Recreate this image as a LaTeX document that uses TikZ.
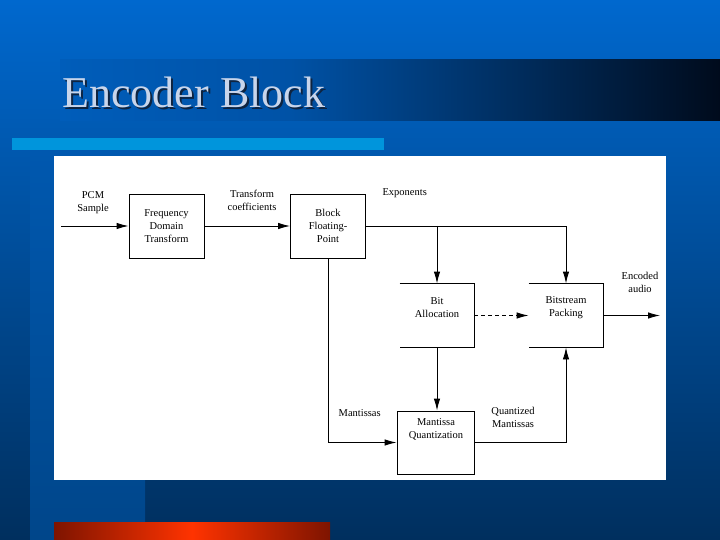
\documentclass[tikz,border=0pt]{standalone}
\usepackage{fontspec}
\setmainfont{Liberation Serif}
\usetikzlibrary{arrows.meta}

\definecolor{slidetop}{HTML}{0068CE}
\definecolor{slidebottom}{HTML}{002F5E}
\definecolor{stripetop}{HTML}{0058AF}
\definecolor{stripebottom}{HTML}{00468A}
\definecolor{bandleft}{HTML}{005DBA}
\definecolor{bandmid}{HTML}{0052A6}
\definecolor{bandright}{HTML}{000B1C}
\definecolor{lightbar}{HTML}{0095DC}
\definecolor{redside}{HTML}{7E1400}
\definecolor{redmid}{HTML}{FF3300}
\definecolor{titletext}{HTML}{C8D5EB}
\definecolor{titleshade}{HTML}{0F2440}

\newcommand{\diagfont}{\fontsize{10.5}{13}\selectfont}
\newcommand{\titlefont}{\fontsize{44}{48}\selectfont}

\tikzset{
  enc box/.style = {
    shape = rectangle,
    align = center,
    draw  = #1,
    minimum width = 75pt,
    minimum height = 64pt,
    inner sep = 0pt,
    font = \diagfont},
  enc box/.default = black,
  open box/.style = {
    shape = rectangle,
    minimum width = 74pt,
    minimum height = 63pt},
  box text/.style = {align = center, font = \diagfont, inner sep = 0pt},
  lbl/.style = {align = center, font = \diagfont, inner sep = 0pt}
}

\begin{document}
\begin{tikzpicture}[x = 1pt, y = -1pt, line width = 0.9pt, >={Latex[length=12pt,width=6.5pt]}]
  % slide background
  \useasboundingbox (0,0) rectangle (720,540);
  \shade[top color = slidetop, bottom color = slidebottom] (0,0) rectangle (720,540);
  \shade[top color = stripetop, bottom color = stripebottom] (30,150) rectangle (145,540);
  \shade[left color = bandleft, right color = bandmid] (60,60) rectangle (290,121);
  \shade[left color = bandmid, right color = bandright] (290,60) rectangle (720.5,121);
  \fill[lightbar] (12,138) rectangle (384,150);
  \shade[left color = redside, right color = redside, middle color = redmid] (54,522) rectangle (330,540.5);
  \fill[white] (54,156) rectangle (666,480);

  % title
  \node[anchor = base west, inner sep = 0pt, text = titleshade, font = \titlefont] (titleshadow) at (64,110) {Encoder Block};
  \node[anchor = base west, inner sep = 0pt, text = titletext, font = \titlefont] (title) at (62,108) {Encoder Block};

  % blocks
  \node[enc box] (fdt) at (166.5,226) { Frequency \\ Domain \\ Transform };
  \node[enc box] (bfp) at (328,226) { Block \\ Floating- \\ Point };
  \node[open box] (bitalloc) at (437,315.5) {};
  \node[open box] (bitpack) at (566,315.5) {};
  \node[enc box, minimum width = 77pt, minimum height = 63pt] (mantq) at (435.5,442.5) {};
  \node[box text] (bitalloctext) at (437,308) { Bit \\ Allocation };
  \node[box text] (bitpacktext) at (566,307.5) { Bitstream \\ Packing };
  \node[box text] (mantqtext) at (436,429) { Mantissa \\ Quantization };
  \draw (bitalloc.north west) -- (bitalloc.north east) -- (bitalloc.south east) -- (bitalloc.south west);
  \draw (bitpack.north west) -- (bitpack.north east) -- (bitpack.south east) -- (bitpack.south west);

  % free ends
  \coordinate (pcmin) at (61,226);
  \coordinate (audioout) at (660,315.5);

  % connectors
  \draw[->] (pcmin) -- (fdt);
  \draw[->] (fdt) -- (bfp);
  \draw[->] (bfp.east) -| (bitpack.north);
  \draw[->] (bfp.east -| bitalloc.north) -- (bitalloc.north);
  \draw[dash pattern = on 4pt off 3pt, ->] (bitalloc) -- (bitpack);
  \draw[->] (bitpack) -- (audioout);
  \draw[->] (bitalloc.south) -- (bitalloc.south |- mantq.north);
  \draw[->] (bfp.south) |- (mantq.west);
  \draw[->] (mantq.east) -| (bitpack.south);

  % labels
  \node[lbl] (pcmlbl) at (93,203) { PCM \\ Sample };
  \node[lbl] (coeflbl) at (252,200) { Transform \\ coefficients };
  \node[lbl] (explbl) at (406,193) { Exponents };
  \node[lbl] (audiolbl) at (640,282) { Encoded \\ audio };
  \node[lbl] (mantlbl) at (361,413) { Mantissas };
  \node[lbl] (quantlbl) at (513,417) { Quantized \\ Mantissas };
\end{tikzpicture}
\end{document}
